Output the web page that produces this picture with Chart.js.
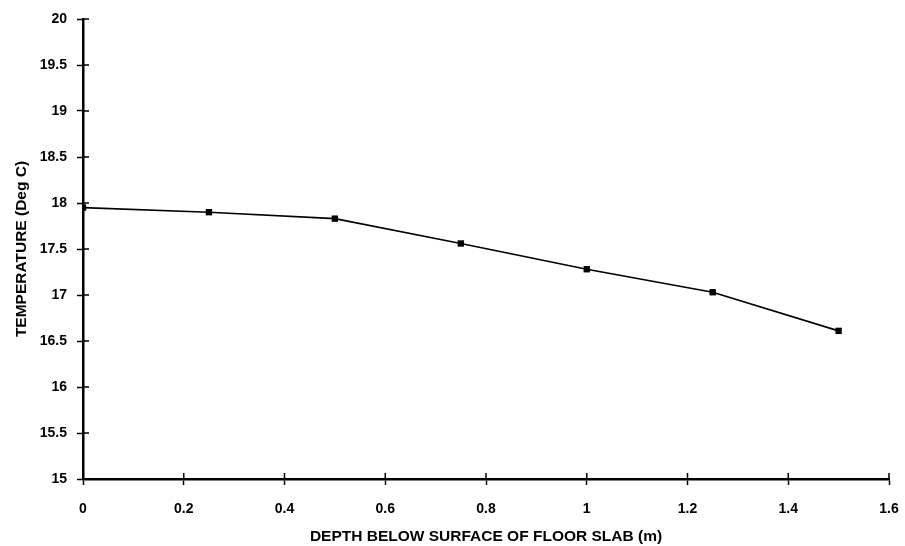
<!DOCTYPE html>
<html>
<head>
<meta charset="utf-8">
<script src="https://cdn.jsdelivr.net/npm/chart.js@4.4.1/dist/chart.umd.min.js"></script>
<style>
  html, body { margin: 0; padding: 0; background: #fff; }
  #wrap { width: 905px; height: 546px; }
</style>
</head>
<body>
<div id="wrap"><canvas id="depthChart" width="905" height="546"></canvas></div>
<script>
// depth below slab surface (m) and measured temperature (deg C)
const depths = [0, 0.25, 0.5, 0.75, 1.0, 1.25, 1.5];
const temps = [17.95, 17.9, 17.83, 17.56, 17.28, 17.03, 16.61];

const xTicks = [0, 0.2, 0.4, 0.6, 0.8, 1, 1.2, 1.4, 1.6];
const yTicks = [15, 15.5, 16, 16.5, 17, 17.5, 18, 18.5, 19, 19.5, 20];

const xTitle = 'DEPTH BELOW SURFACE OF FLOOR SLAB (m)';
const yTitle = 'TEMPERATURE (Deg C)';

const family = '"Liberation Sans", Arial, sans-serif';
const labelFont = { family, size: 14, weight: 'bold' };
const xTitleFont = { family, size: 15.5, weight: 'bold' };
const yTitleFont = { family, size: 15.5, weight: 'bold' };

// tick marks cross the axis, so draw the inner half as well
const innerTicks = {
  id: 'innerTicks',
  afterDraw(chart) {
    const { ctx, chartArea, scales } = chart;
    const len = 6;
    ctx.save();
    ctx.strokeStyle = '#000';
    ctx.lineWidth = 1.5;
    ctx.beginPath();
    scales.x.ticks.forEach(t => {
      const px = scales.x.getPixelForValue(t.value);
      ctx.moveTo(px, chartArea.bottom);
      ctx.lineTo(px, chartArea.bottom - len);
    });
    scales.y.ticks.forEach(t => {
      const py = scales.y.getPixelForValue(t.value);
      ctx.moveTo(chartArea.left, py);
      ctx.lineTo(chartArea.left + len, py);
    });
    ctx.stroke();
    ctx.restore();
  }
};

const ctx = document.getElementById('depthChart').getContext('2d');
new Chart(ctx, {
  type: 'scatter',
  data: {
    datasets: [{
      data: depths.map((d, i) => ({ x: d, y: temps[i] })),
      showLine: true,
      borderColor: '#000',
      backgroundColor: '#000',
      borderWidth: 1.6,
      pointStyle: 'rect',
      pointRadius: 4.5,
      pointHoverRadius: 4.5,
      pointBorderWidth: 0
    }]
  },
  options: {
    responsive: false,
    animation: false,
    layout: { padding: { top: 19, right: 16, left: 0, bottom: 0 } },
    plugins: { legend: { display: false }, tooltip: { enabled: false } },
    scales: {
      x: {
        type: 'linear',
        min: 0,
        max: 1.6,
        afterBuildTicks: s => { s.ticks = xTicks.map(v => ({ value: v })); },
        afterFit: s => {
          s.height = 67;
          s.paddingLeft = 0;
          s.paddingRight = 0;
        },
        ticks: {
          color: '#000',
          font: labelFont,
          padding: 16,
          maxRotation: 0,
          callback: v => String(v)
        },
        grid: {
          drawOnChartArea: false,
          drawTicks: true,
          tickLength: 6,
          tickColor: '#000',
          tickWidth: 1.5
        },
        border: { display: true, color: '#000', width: 2.5 },
        title: {
          display: true,
          text: xTitle,
          color: '#000',
          font: xTitleFont,
          padding: { top: 0, bottom: 0 }
        }
      },
      y: {
        type: 'linear',
        min: 15,
        max: 20,
        afterBuildTicks: s => { s.ticks = yTicks.map(v => ({ value: v })); },
        afterFit: s => {
          s.width = 83;
          s.paddingTop = 0;
          s.paddingBottom = 0;
        },
        ticks: {
          color: '#000',
          font: labelFont,
          padding: 10,
          callback: v => String(v)
        },
        grid: {
          drawOnChartArea: false,
          drawTicks: true,
          tickLength: 6,
          tickColor: '#000',
          tickWidth: 1.5
        },
        border: { display: true, color: '#000', width: 2.5 },
        title: {
          display: true,
          text: yTitle,
          color: '#000',
          font: yTitleFont,
          padding: { top: 12, bottom: 0 }
        }
      }
    }
  },
  plugins: [innerTicks]
});
</script>
</body>
</html>
